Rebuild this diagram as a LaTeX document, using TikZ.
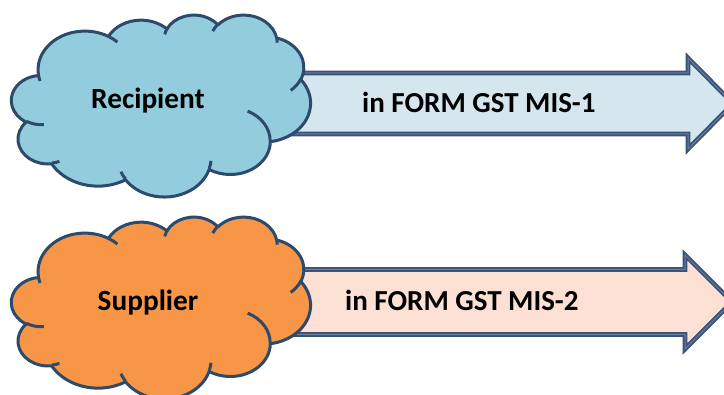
\documentclass[tikz,border=0pt]{standalone}
\usepackage{fontspec}
\setmainfont{Carlito}
\definecolor{cloudline}{HTML}{2D4A6C}
\definecolor{bluefill}{HTML}{93CDDD}
\definecolor{orangefill}{HTML}{F79646}
\definecolor{arrowline}{HTML}{3C5378}
\definecolor{arrowmid}{HTML}{6B7E9E}
\definecolor{arrowblue}{HTML}{D5E6EE}
\definecolor{arrowpeach}{HTML}{FCE0D4}
% elliptical arc with DrawingML-style (visual) angles
\def\ca#1#2#3#4{arc[start angle={atan2((#1)*sin(#3),(#2)*cos(#3))}, delta angle={mod(atan2((#1)*sin((#3)+(#4)),(#2)*cos((#3)+(#4)))-atan2((#1)*sin(#3),(#2)*cos(#3))+720,360)}, x radius=#1, y radius=#2]}
\def\cloudoutline{(39.00,143.70) \ca{67.53}{91.90}{-190.48748}{123.78053}
 \ca{53.33}{72.67}{-144.10238}{89.94523}
 \ca{43.65}{59.45}{-145.80792}{99.72302}
 \ca{48.57}{65.95}{-130.98607}{117.24173}
 \ca{53.33}{72.73}{-78.70888}{109.02692}
 \ca{67.75}{92.20}{-46.26725}{130.269}
 \ca{57.85}{78.67}{0.62502}{114.03333}
 \ca{67.52}{92.15}{22.4516}{115.17255}
 \ca{77.20}{105.43}{66.24263}{75.71102}
 \ca{43.60}{59.18}{-274.94208}{146.73557}
 \ca{43.45}{59.45}{-246.8285}{152.51885} -- cycle}
\def\cloudinner{(46.93,261.77) \ca{43.45}{59.45}{86.742}{26.4295}
 (69.28,348.99) \ca{43.60}{59.18}{73.61047}{11.44747}
 (164.78,390.90) \ca{67.52}{92.15}{137.62415}{14.0811}
 (288.27,347.51) \ca{67.52}{92.15}{6.45327}{15.99835}
 (341.29,229.54) \ca{57.85}{78.67}{-70.29235}{70.91737}
 (417.98,153.54) \ca{53.33}{72.73}{30.31803}{27.7515}
 (383.24,54.26) \ca{48.57}{65.95}{-13.74433}{14.8589}
 (290.78,39.52) \ca{48.57}{65.95}{-149.18145}{18.19537}
 (221.41,47.20) \ca{43.65}{59.45}{-163.49427}{17.68635}
 (140.00,51.92) \ca{67.53}{91.90}{-66.70695}{12.31935}
 (41.27,157.89) \ca{67.53}{91.90}{157.65435}{11.85817}}
\tikzset{
  cloudstroke/.style={draw=cloudline, line width=3pt, line join=round},
  arrowshape/.style={draw=arrowline, double=arrowmid, line width=1.8pt, double distance=1pt, line join=miter},
  cloudtext/.style={font=\fontsize{29.3}{33}\selectfont\bfseries, anchor=base, inner sep=0pt},
  arrowtext/.style={font=\fontsize{29}{33}\selectfont\bfseries, anchor=base west, inner sep=0pt}
}
\begin{document}
\begin{tikzpicture}[x=1pt, y=-1pt]
\useasboundingbox (0,0) rectangle (724,395);
\clip (0,0) rectangle (724,395);
\fill[white] (0,0) rectangle (724,395);
% arrows
\path[arrowshape, fill=arrowblue] (291,73) -- (688,73) -- (688,58) -- (733,103.5) -- (688,149) -- (688,134) -- (291,134) -- cycle;
\path[arrowshape, fill=arrowpeach] (291,269.5) -- (685,269.5) -- (685,255) -- (732,302) -- (685,349) -- (685,334.5) -- (291,334.5) -- cycle;
% clouds
\begin{scope}[shift={(11.5,14.5)}, x=0.692pt, y=-0.421pt]
  \path[cloudstroke, fill=bluefill] \cloudoutline;
  \path[cloudstroke] \cloudinner;
\end{scope}
\begin{scope}[shift={(11.5,216.5)}, x=0.692pt, y=-0.421pt]
  \path[cloudstroke, fill=orangefill] \cloudoutline;
  \path[cloudstroke] \cloudinner;
\end{scope}
% texts
\node[cloudtext] (rec) at (148,108.5) {Recipient};
\node[cloudtext] (sup) at (148,311) {Supplier};
\node[arrowtext] (mis1) at (362,112.7) {in FORM GST MIS-1};
\node[arrowtext] (mis2) at (345,310.7) {in FORM GST MIS-2};
\end{tikzpicture}
\end{document}
